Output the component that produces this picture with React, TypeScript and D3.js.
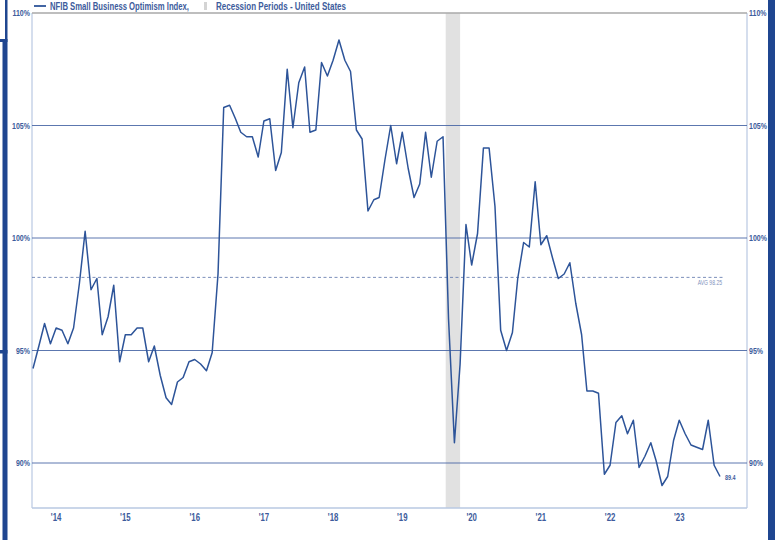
import React from 'react';
import * as d3 from 'd3';

// NFIB Small Business Optimism Index, monthly, first point = Mar 2014
const firstMonth = new Date(2014, 2, 1);
const indexValues = [
  94.2, 95.2, 96.2, 95.3, 96.0, 95.9, 95.3, 96.0, 98.0, 100.3,
  97.7, 98.2, 95.7, 96.5, 97.9, 94.5, 95.7, 95.7, 96.0, 96.0, 94.5, 95.2,
  93.9, 92.9, 92.6, 93.6, 93.8, 94.5, 94.6, 94.4, 94.1, 94.9, 98.4, 105.8,
  105.9, 105.3, 104.7, 104.5, 104.5, 103.6, 105.2, 105.3, 103.0, 103.8, 107.5, 104.9,
  106.9, 107.6, 104.7, 104.8, 107.8, 107.2, 107.9, 108.8, 107.9, 107.4, 104.8, 104.4,
  101.2, 101.7, 101.8, 103.5, 105.0, 103.3, 104.7, 103.1, 101.8, 102.4, 104.7, 102.7,
  104.3, 104.5, 96.4, 90.9, 94.4, 100.6, 98.8, 100.2, 104.0, 104.0, 101.4, 95.9,
  95.0, 95.8, 98.2, 99.8, 99.6, 102.5, 99.7, 100.1, 99.1, 98.2, 98.4, 98.9,
  97.1, 95.7, 93.2, 93.2, 93.1, 89.5, 89.9, 91.8, 92.1, 91.3, 91.9, 89.8,
  90.3, 90.9, 90.1, 89.0, 89.4, 91.0, 91.9, 91.3, 90.8, 90.7, 90.6, 91.9,
  89.9, 89.4,
];
const average = 98.25;
const recessionStart = new Date(2020, 1, 15);
const recessionEnd = new Date(2020, 4, 1);
const yearLabels = ["'14", "'15", "'16", "'17", "'18", "'19", "'20", "'21", "'22", "'23"];
const yearTicks = [2014, 2015, 2016, 2017, 2018, 2019, 2020, 2021, 2022, 2023];
const yTicks = [90, 95, 100, 105, 110];

const font = '"Liberation Sans", Arial, sans-serif';
const blue = '#2d5499';
const labelBlue = '#3d5c9c';

// condensed text, the original uses a narrow face
function Narrow(props: { x: number; y: number; anchor?: string; size: number; bold?: boolean; fill: string; sx?: number; children: any }) {
  const { x, y, anchor = 'start', size, bold = true, fill, sx = 0.78, children } = props;
  return (
    <text transform={`translate(${x},${y}) scale(${sx},1)`} textAnchor={anchor}
      fontFamily={font} fontWeight={bold ? 'bold' : 'normal'} fontSize={size} fill={fill}>
      {children}
    </text>
  );
}

export default function App() {
  const left = 32, right = 747, top = 13, bottom = 508;

  const data = indexValues.map((v, i) => ({ date: d3.timeMonth.offset(firstMonth, i), value: v }));
  const lastPoint = data[data.length - 1];

  const x = d3.scaleTime()
    .domain([firstMonth, lastPoint.date])
    .range([33, 720]);
  const y = d3.scaleLinear().domain([88, 110]).range([bottom, top]);

  const line = d3.line<{ date: Date; value: number }>()
    .x(d => x(d.date))
    .y(d => y(d.value));

  return (
    <svg width={775} height={540} style={{ position: 'absolute', left: 0, top: 0, background: '#fff' }}>
      {/* frame bars */}
      <rect x={5} y={0} width={2.5} height={40} fill="#1f4690" />
      <rect x={0} y={39} width={7.5} height={3} fill="#1f4690" />
      <rect x={2.5} y={40} width={5} height={500} fill="#1f4690" />
      <rect x={0} y={350} width={7.5} height={3.5} fill="#1f4690" />
      <rect x={768} y={0} width={7} height={540} fill="#1f4690" />

      {/* recession band */}
      <rect x={x(recessionStart)} y={top} width={x(recessionEnd) - x(recessionStart)} height={bottom - top} fill="#e1e1e1" />

      {/* plot frame */}
      <line x1={left} x2={left} y1={top} y2={bottom} stroke="#b9c8e2" strokeWidth={1.2} />
      <line x1={right} x2={right} y1={top} y2={bottom} stroke="#b9c8e2" strokeWidth={1.2} />
      <line x1={left} x2={right} y1={bottom} y2={bottom} stroke="#b9c8e2" strokeWidth={1.5} />

      {/* gridlines & y labels */}
      {yTicks.map(t => (
        <g key={t}>
          <line x1={left} x2={right} y1={y(t)} y2={y(t)}
            stroke={t === 110 ? '#a8a8a8' : '#4a68a6'} strokeWidth={t === 110 ? 1.6 : 0.9} />
          <Narrow x={30} y={y(t) + 3} anchor="end" size={9} fill={labelBlue}>{t}%</Narrow>
          <Narrow x={749} y={y(t) + 3} size={9} fill={labelBlue}>{t}%</Narrow>
        </g>
      ))}

      {/* average */}
      <line x1={left} x2={723} y1={y(average)} y2={y(average)} stroke="#5a74aa" strokeWidth={0.8} strokeDasharray="3,2.5" />
      <Narrow x={722} y={y(average) + 7.5} anchor="end" size={6.5} bold={false} fill="#7f93bd">AVG  {average}</Narrow>

      {/* series */}
      <path d={line(data) || ''} fill="none" stroke={blue} strokeWidth={1.5} strokeLinejoin="round" />
      <Narrow x={x(lastPoint.date) + 5} y={y(lastPoint.value) + 3.5} size={7} fill={labelBlue}>{lastPoint.value}</Narrow>

      {/* x labels */}
      {yearTicks.map((yr, i) => (
        <Narrow key={yr} x={x(new Date(yr, 6, 1))} y={521} anchor="middle" size={10} fill={labelBlue}>{yearLabels[i]}</Narrow>
      ))}

      {/* legend */}
      <line x1={34} x2={46} y1={6} y2={6} stroke={blue} strokeWidth={1.8} />
      <text x={50} y={9.5} textLength={139} lengthAdjust="spacingAndGlyphs" fontFamily={font} fontWeight="bold" fontSize={10} fill={labelBlue}>NFIB Small Business Optimism Index,</text>
      <rect x={204} y={2} width={3} height={8} fill="#d4d4d4" />
      <text x={216} y={9.5} textLength={130} lengthAdjust="spacingAndGlyphs" fontFamily={font} fontWeight="bold" fontSize={10} fill={labelBlue}>Recession Periods - United States</text>
    </svg>
  );
}
